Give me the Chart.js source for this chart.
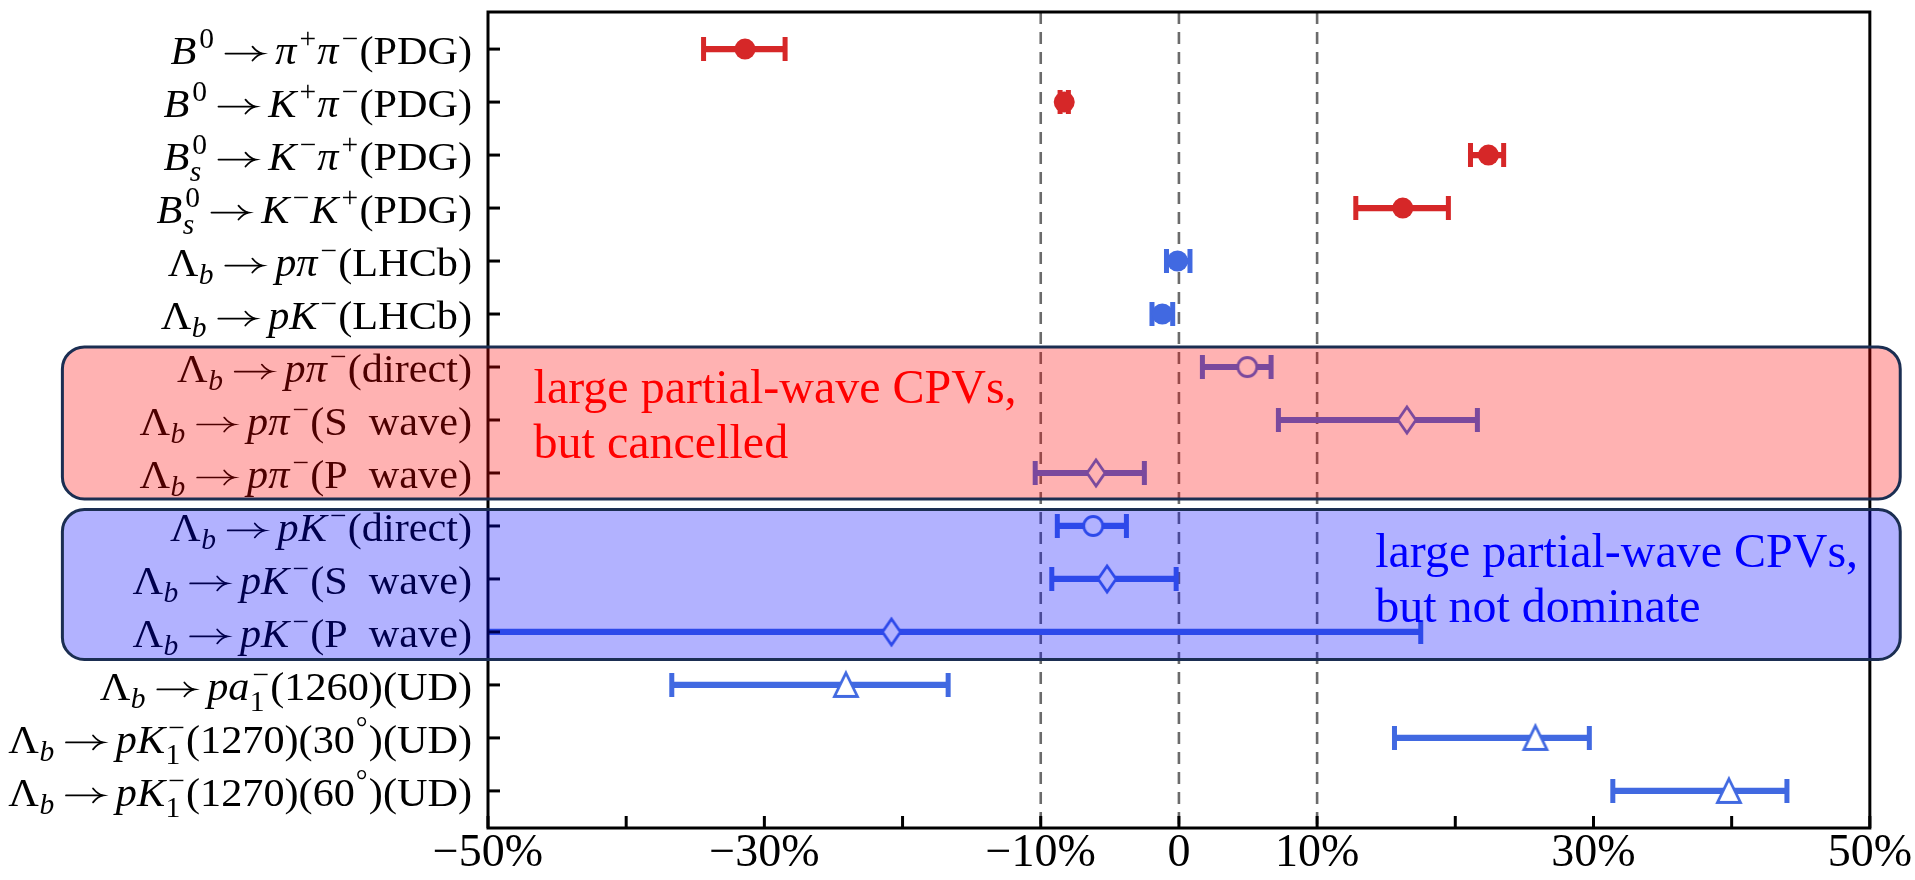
<!DOCTYPE html>
<html>
<head>
<meta charset="utf-8">
<script src="https://cdn.jsdelivr.net/npm/chart.js@4.4.1/dist/chart.umd.min.js"></script>
<style>
  html, body { margin: 0; padding: 0; background: #fff; }
  canvas { display: block; }
</style>
</head>
<body>
<canvas id="graficoCPV" width="1915" height="880"></canvas>
<script>
// Datos (en %)
const categories = [
  '$B^0\\to\\pi^+\\pi^-$(PDG)',
  '$B^0\\to K^+\\pi^-$(PDG)',
  '$B_s^0\\to K^-\\pi^+$(PDG)',
  '$B_s^0\\to K^-K^+$(PDG)',
  '$\\Lambda_b\\to p\\pi^-$(LHCb)',
  '$\\Lambda_b\\to pK^-$(LHCb)',
  '$\\Lambda_b\\to p\\pi^-$(direct)',
  '$\\Lambda_b\\to p\\pi^-$(S wave)',
  '$\\Lambda_b\\to p\\pi^-$(P wave)',
  '$\\Lambda_b\\to pK^-$(direct)',
  '$\\Lambda_b\\to pK^-$(S wave)',
  '$\\Lambda_b\\to pK^-$(P wave)',
  '$\\Lambda_b\\to pa_1^-$(1260)(UD)',
  '$\\Lambda_b\\to pK_1^-$(1270)(30$^\\circ$)(UD)',
  '$\\Lambda_b\\to pK_1^-$(1270)(60$^\\circ$)(UD)'
];
const values = [-31.4, -8.3, 22.4, 16.2, -0.1, -1.2, 4.95, 16.5, -6.0, -6.2, -5.2, -20.8, -24.1, 25.8, 39.8];
const lower  = [-34.4, -8.6, 21.1, 12.8, -0.9, -1.95, 1.7, 7.2, -10.4, -8.8, -9.2, -60.0, -36.7, 15.6, 31.4];
const upper  = [-28.5, -8.0, 23.5, 19.5, 0.8, -0.45, 6.67, 21.6, -2.5, -3.8, -0.2, 17.5, -16.7, 29.7, 44.0];
const sources = ['PDG', 'PDG', 'PDG', 'PDG', 'LHCb', 'LHCb', 'pred', 'pred', 'pred', 'pred', 'pred', 'pred', 'pred', 'pred', 'pred'];
const markers = ['dot', 'dot', 'dot', 'dot', 'dot', 'dot', 'circle', 'diamond', 'diamond', 'circle', 'diamond', 'diamond', 'triangle', 'triangle', 'triangle'];

const xTickValues = [-50, -40, -30, -20, -10, 0, 10, 20, 30, 40, 50];
const xLabelValues = [-50, -30, -10, 0, 10, 30, 50];
const xLabelTexts = ['\u221250%', '\u221230%', '\u221210%', '0', '10%', '30%', '50%'];
const refLines = [-10, 0, 10];

const noteRed = ['large partial-wave CPVs,', 'but cancelled'];
const noteBlue = ['large partial-wave CPVs,', 'but not dominate'];

// Estilos
const colores = { PDG: '#d62728', LHCb: '#4169e1', pred: '#4169e1' };
const serif = '"Liberation Serif", "Times New Roman", serif';
const labelSize = 41;
const labelStretch = 1.03;

// --- etiquetas tipo TeX ---
const CMDS = {
  '\\to': { t: '\u2192', it: false, spl: 0.2, spr: 0.3, w: 0.92, arrow: true },
  '\\pi': { t: '\u03c0', it: true },
  '\\Lambda': { t: '\u039b', it: false },
  '\\circ': { t: '\u00b0', it: false }
};
function glyph(c) {
  if (c === '-') return { t: '\u2212', it: false };
  return { t: c, it: /[A-Za-z]/.test(c) };
}
function tokenize(m) {
  const out = [];
  let i = 0;
  while (i < m.length) {
    const c = m[i];
    if (c === ' ') { i++; continue; }
    if (c === '\\') {
      const name = /^\\[A-Za-z]+/.exec(m.slice(i))[0];
      out.push(Object.assign({}, CMDS[name]));
      i += name.length;
      continue;
    }
    if (c === '^' || c === '_') { out.push(c); i++; continue; }
    if (c === '{') {
      const j = m.indexOf('}', i);
      out.push({ group: tokenize(m.slice(i + 1, j)) });
      i = j + 1;
      continue;
    }
    out.push(glyph(c));
    i++;
  }
  return out;
}
function layoutMath(m) {
  const toks = tokenize(m);
  const items = [];
  for (let k = 0; k < toks.length; k++) {
    const tk = toks[k];
    if (tk === '^' || tk === '_') {
      const a = toks[++k];
      const arg = a.group ? a.group : [a];
      let last = items[items.length - 1];
      if (!last || last.type !== 'script') {
        const prev = last;
        last = { type: 'script', sup: null, sub: null, ic: prev && prev.it ? 0.05 : 0 };
        items.push(last);
      }
      last[tk === '^' ? 'sup' : 'sub'] = arg;
      continue;
    }
    items.push(Object.assign({ type: 'g' }, tk));
  }
  return items;
}
function parseLabel(str) {
  const items = [];
  str.split('$').forEach((part, k) => {
    if (!part) return;
    if (k % 2 === 0) items.push({ type: 'g', t: part.replace(/ /g, '\u2002'), it: false });
    else items.push(...layoutMath(part));
  });
  return items;
}
function fontOf(it, size) { return (it ? 'italic ' : '') + size + 'px ' + serif; }
function glyphWidth(ctx, g, size) {
  ctx.font = fontOf(g.it, size);
  const w = g.w ? g.w * size : ctx.measureText(g.t).width;
  return w + ((g.spl || 0) + (g.spr || 0)) * size;
}
function runWidth(ctx, list, size) { return list.reduce((s, g) => s + glyphWidth(ctx, g, size), 0); }
function itemWidth(ctx, item, size) {
  if (item.type === 'script') {
    const s = size * 0.7;
    const up = item.sup ? runWidth(ctx, item.sup, s) + item.ic * size : 0;
    const dn = item.sub ? runWidth(ctx, item.sub, s) : 0;
    return Math.max(up, dn) + size * 0.05;
  }
  return glyphWidth(ctx, item, size);
}
function drawArrow(ctx, x, y, w, size) {
  const ay = y - size * 0.25;
  ctx.save();
  ctx.strokeStyle = ctx.fillStyle;
  ctx.lineWidth = size * 0.042;
  ctx.lineCap = 'round';
  ctx.beginPath();
  ctx.moveTo(x + size * 0.04, ay);
  ctx.lineTo(x + w - size * 0.03, ay);
  ctx.stroke();
  ctx.beginPath();
  ctx.moveTo(x + w - size * 0.24, ay - size * 0.17);
  ctx.quadraticCurveTo(x + w - size * 0.12, ay - size * 0.02, x + w, ay);
  ctx.quadraticCurveTo(x + w - size * 0.12, ay + size * 0.02, x + w - size * 0.24, ay + size * 0.17);
  ctx.stroke();
  ctx.restore();
}
function drawRun(ctx, list, x, y, size) {
  list.forEach(g => {
    ctx.font = fontOf(g.it, size);
    const gx = x + (g.spl || 0) * size;
    if (g.arrow) drawArrow(ctx, gx, y, g.w * size, size);
    else ctx.fillText(g.t, gx, y);
    x += glyphWidth(ctx, g, size);
  });
}
function drawLabel(ctx, items, right, y, size) {
  const total = items.reduce((s, it) => s + itemWidth(ctx, it, size), 0);
  ctx.save();
  ctx.translate(right - total * labelStretch, y);
  ctx.scale(labelStretch, 1);
  let x = 0;
  items.forEach(item => {
    if (item.type === 'script') {
      const s = size * 0.7;
      if (item.sup) drawRun(ctx, item.sup, x + size * 0.02 + item.ic * size, -size * 0.38, s);
      if (item.sub) drawRun(ctx, item.sub, x + size * 0.01, size * (item.sup ? 0.27 : 0.2), s);
    } else {
      drawRun(ctx, [item], x, 0, size);
    }
    x += itemWidth(ctx, item, size);
  });
  ctx.restore();
}
const parsedLabels = categories.map(parseLabel);

// --- marcadores abiertos ---
function markerImg(kind, color) {
  const c = document.createElement('canvas');
  c.width = 36; c.height = 36;
  const g = c.getContext('2d');
  g.translate(18, 18);
  g.beginPath();
  if (kind === 'circle') {
    g.arc(0, 0, 9.5, 0, Math.PI * 2);
  } else if (kind === 'diamond') {
    g.moveTo(0, -13); g.lineTo(9, 0); g.lineTo(0, 13); g.lineTo(-9, 0); g.closePath();
  } else {
    g.moveTo(0, -12); g.lineTo(11.5, 11.5); g.lineTo(-11.5, 11.5); g.closePath();
  }
  g.fillStyle = '#fff';
  g.fill();
  g.lineWidth = 2.8;
  g.lineJoin = 'miter';
  g.strokeStyle = color;
  g.stroke();
  return c;
}

const pointColors = sources.map(s => colores[s]);
const pointStyles = markers.map((m, i) => m === 'dot' ? 'circle' : markerImg(m, pointColors[i]));

// Líneas de referencia, barras de error, marco
const errorBars = {
  id: 'errorBars',
  beforeDatasetsDraw(chart) {
    const { ctx, chartArea: a, scales: { x, y } } = chart;
    ctx.save();
    // líneas punteadas
    ctx.strokeStyle = '#6b6b6b';
    ctx.lineWidth = 2.6;
    ctx.setLineDash([12, 8]);
    refLines.forEach(v => {
      const px = x.getPixelForValue(v);
      ctx.beginPath(); ctx.moveTo(px, a.top); ctx.lineTo(px, a.bottom); ctx.stroke();
    });
    ctx.setLineDash([]);
    ctx.beginPath(); ctx.rect(a.left, a.top, a.right - a.left, a.bottom - a.top); ctx.clip();
    values.forEach((v, i) => {
      const py = y.getPixelForValue(i);
      const x0 = x.getPixelForValue(lower[i]);
      const x1 = x.getPixelForValue(upper[i]);
      ctx.strokeStyle = pointColors[i];
      ctx.lineWidth = 6.2;
      ctx.beginPath(); ctx.moveTo(x0, py); ctx.lineTo(x1, py); ctx.stroke();
      ctx.lineWidth = 5;
      [x0, x1].forEach(px => {
        ctx.beginPath(); ctx.moveTo(px, py - 12); ctx.lineTo(px, py + 12); ctx.stroke();
      });
    });
    ctx.restore();
  },
  afterDatasetsDraw(chart) {
    const { ctx, chartArea: a, scales: { x, y } } = chart;
    ctx.save();
    ctx.strokeStyle = '#000';
    ctx.lineWidth = 3;
    ctx.strokeRect(a.left, a.top, a.right - a.left, a.bottom - a.top);
    values.forEach((v, i) => {
      const py = y.getPixelForValue(i);
      ctx.beginPath(); ctx.moveTo(a.left, py); ctx.lineTo(a.left + 12, py); ctx.stroke();
    });
    xTickValues.forEach(v => {
      const px = x.getPixelForValue(v);
      ctx.beginPath(); ctx.moveTo(px, a.bottom); ctx.lineTo(px, a.bottom - 12); ctx.stroke();
    });
    // etiquetas del eje y
    ctx.fillStyle = '#000';
    ctx.textBaseline = 'alphabetic';
    ctx.textAlign = 'left';
    parsedLabels.forEach((items, i) => {
      drawLabel(ctx, items, a.left - 16, y.getPixelForValue(i) + labelSize * 0.36, labelSize);
    });
    ctx.restore();
  },
  afterDraw(chart) {
    const { ctx, scales: { x, y } } = chart;
    ctx.save();
    const bands = [
      { from: 5.62, to: 8.49, fill: 'rgba(255,0,0,0.3)' },
      { from: 8.69, to: 11.52, fill: 'rgba(0,0,255,0.3)' }
    ];
    bands.forEach(b => {
      const x0 = x.getPixelForValue(-80.8), x1 = x.getPixelForValue(52.2);
      const y0 = y.getPixelForValue(b.from), y1 = y.getPixelForValue(b.to);
      ctx.beginPath();
      ctx.roundRect(x0, y0, x1 - x0, y1 - y0, 22);
      ctx.fillStyle = b.fill;
      ctx.fill();
      ctx.lineWidth = 3;
      ctx.strokeStyle = '#1b2e52';
      ctx.stroke();
    });
    ctx.font = '48px ' + serif;
    ctx.textAlign = 'left';
    ctx.textBaseline = 'alphabetic';
    ctx.fillStyle = '#ff0000';
    noteRed.forEach((t, k) => ctx.fillText(t, x.getPixelForValue(-46.7), y.getPixelForValue(6.67 + k * 1.04)));
    ctx.fillStyle = '#0000ff';
    noteBlue.forEach((t, k) => ctx.fillText(t, x.getPixelForValue(14.2), y.getPixelForValue(9.77 + k * 1.04)));
    ctx.restore();
  }
};

new Chart(document.getElementById('graficoCPV').getContext('2d'), {
  type: 'scatter',
  data: {
    datasets: [{
      data: values.map((v, i) => ({ x: v, y: i })),
      pointStyle: pointStyles,
      radius: 10.5,
      hoverRadius: 10.5,
      backgroundColor: pointColors,
      borderWidth: 0
    }]
  },
  options: {
    responsive: false,
    animation: false,
    devicePixelRatio: 1,
    layout: { padding: { left: 488, right: 41, top: 12, bottom: 0 } },
    plugins: { legend: { display: false }, tooltip: { enabled: false } },
    scales: {
      x: {
        type: 'linear',
        min: -50,
        max: 50,
        grid: { display: false, drawTicks: false },
        border: { display: false },
        afterBuildTicks: scale => { scale.ticks = xTickValues.map(v => ({ value: v })); },
        ticks: {
          autoSkip: false,
          maxRotation: 0,
          padding: 3,
          color: '#000',
          font: { family: serif, size: 46, lineHeight: 1 },
          callback: v => {
            const k = xLabelValues.indexOf(v);
            return k < 0 ? '' : xLabelTexts[k];
          }
        }
      },
      y: {
        type: 'linear',
        display: false,
        reverse: true,
        min: -0.7,
        max: 14.7
      }
    }
  },
  plugins: [errorBars]
});
</script>
</body>
</html>
